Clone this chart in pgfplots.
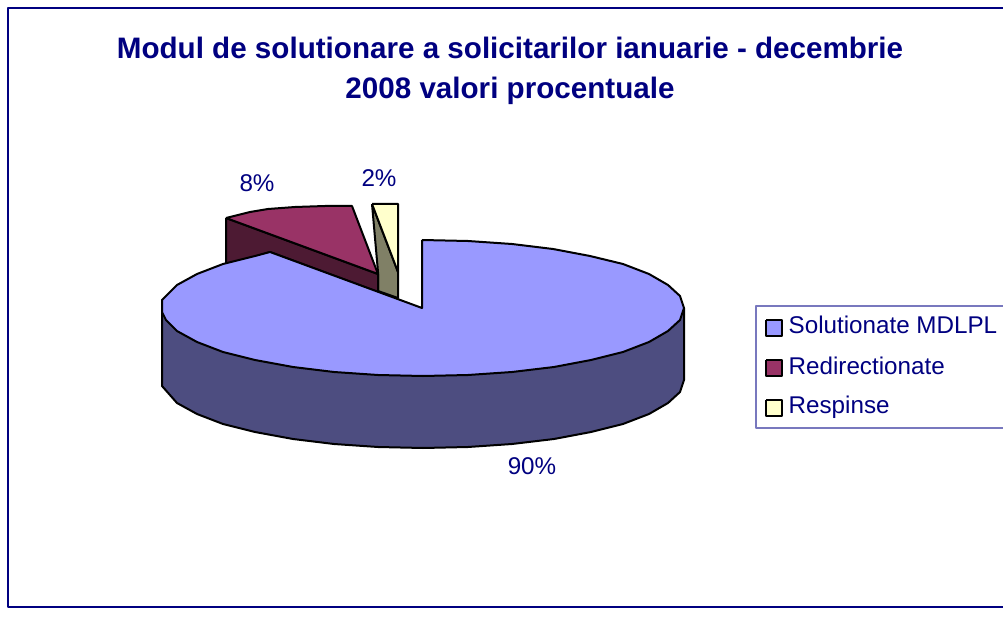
\documentclass[border=0pt]{standalone}
\usepackage{pgfplots}
\pgfplotsset{compat=1.18}
\usepackage{fontspec}
\setmainfont{Liberation Sans}
\definecolor{navy}{HTML}{000080}
\definecolor{pieA}{HTML}{9999FF}
\definecolor{pieAd}{HTML}{4D4D80}
\definecolor{pieB}{HTML}{993366}
\definecolor{pieBd}{HTML}{4D1A33}
\definecolor{pieC}{HTML}{FFFFCC}
\definecolor{pieCd}{HTML}{808066}
\definecolor{legline}{HTML}{7878BE}
\begin{document}
\begin{tikzpicture}
\path[use as bounding box] (0,0) rectangle (1003pt,617pt);
\begin{axis}[
  anchor=south west, at={(0,0)},
  scale only axis, width=1003pt, height=617pt,
  xmin=0, xmax=1003, ymin=0, ymax=617, y dir=reverse,
  hide axis, clip=false,
  every axis plot/.append style={line join=round},
]
% frame
\addplot[navy, line width=2pt] coordinates {(1003,8) (8,8) (8,607) (1003,607)};
% Respinse (2%)
\addplot[black, line width=2pt, fill=pieCd] coordinates {(372,204) (398,272) (398,298) (378,291) (378,272) (372,204)};
\addplot[black, line width=2pt, fill=pieC] coordinates {(372,204) (398,204) (398,272) (372,204)};
% Redirectionate (8%)
\addplot[black, line width=2pt, fill=pieBd] coordinates {(226,218) (378,274) (378,292) (270,252) (226,266) (226,218)};
\addplot[black, line width=2pt, fill=pieB] coordinates {(226,218) (250,212) (268,209) (295,207) (325,206) (352,206) (378,274) (226,218)};
% Solutionate MDLPL (90%) side
\addplot[black, line width=2pt, fill=pieAd] coordinates {(684,308) (684,380) (680,392) (668,403) (649,414) (623,424) (591,432) (554,439) (512,444) (468,447) (423,448) (378,447) (334,444) (293,439) (255,432) (223,424) (197,414) (177,403) (162,386) (162,308) (684,308)};
% top
\addplot[black, line width=2pt, fill=pieA] coordinates {(422,240) (468,241) (512,244) (553,249) (590,256) (623,264) (649,274) (668,285) (680,296) (684,308) (680,320) (668,331) (649,342) (623,352) (591,360) (554,367) (512,372) (468,375) (423,376) (378,375) (334,372) (293,367) (255,360) (223,352) (197,342) (177,331) (166,320) (162,312) (162,300) (177,285) (197,274) (223,264) (255,256) (270,252) (422,308) (422,240)};
% legend
\addplot[legline, line width=1.4pt] coordinates {(1003,306) (756,306) (756,428) (1003,428)};
\addplot[black, line width=1.6pt, fill=pieA] coordinates {(766,320) (782,320) (782,336) (766,336) (766,320)};
\addplot[black, line width=1.6pt, fill=pieB] coordinates {(766,360) (782,360) (782,376) (766,376) (766,360)};
\addplot[black, line width=1.6pt, fill=pieC] coordinates {(766,400) (782,400) (782,416) (766,416) (766,400)};
\node[anchor=base west, text=navy, font=\fontsize{24.2}{24.2}\selectfont, inner sep=0pt] at (axis cs:788.5,334) {Solutionate MDLPL};
\node[anchor=base west, text=navy, font=\fontsize{24.2}{24.2}\selectfont, inner sep=0pt] at (axis cs:788.5,374) {Redirectionate};
\node[anchor=base west, text=navy, font=\fontsize{24.2}{24.2}\selectfont, inner sep=0pt] at (axis cs:788.5,413) {Respinse};
% data labels
\node[anchor=base, text=navy, font=\fontsize{24.2}{24.2}\selectfont, inner sep=0pt] at (axis cs:257,192) {8\%};
\node[anchor=base, text=navy, font=\fontsize{24.2}{24.2}\selectfont, inner sep=0pt] at (axis cs:379,187) {2\%};
\node[anchor=base, text=navy, font=\fontsize{24.2}{24.2}\selectfont, inner sep=0pt] at (axis cs:532,474) {90\%};
% title
\node[anchor=base, text=navy, font=\fontsize{29.6}{29.6}\selectfont\bfseries, inner sep=0pt] at (axis cs:510,59) {Modul de solutionare a solicitarilor ianuarie - decembrie};
\node[anchor=base, text=navy, font=\fontsize{29.6}{29.6}\selectfont\bfseries, inner sep=0pt] at (axis cs:510,99) {2008 valori procentuale};
\end{axis}
\end{tikzpicture}
\end{document}
